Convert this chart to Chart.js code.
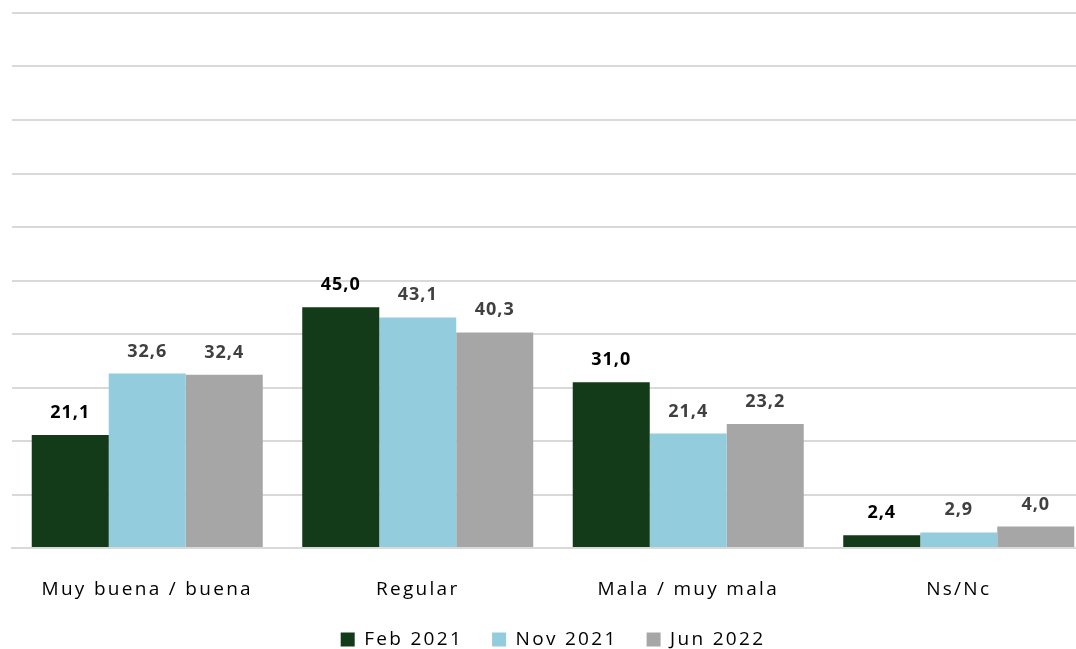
<!DOCTYPE html>
<html>
<head>
<meta charset="utf-8">
<script src="https://cdn.jsdelivr.net/npm/chart.js@4/dist/chart.umd.min.js"></script>
<style>
  html, body { margin: 0; padding: 0; background: #fff; overflow: hidden; }
  #wrap { width: 1094px; height: 649px; }
</style>
</head>
<body>
<!-- the original plot runs past the right edge, so the canvas is a bit wider than the window -->
<div id="wrap"><canvas id="chart" width="1094" height="649"></canvas></div>
<script>
// --- data ---
const categories = ['Muy buena / buena', 'Regular', 'Mala / muy mala', 'Ns/Nc'];
const seriesNames = ['Feb 2021', 'Nov 2021', 'Jun 2022'];
const feb2021 = [21.1, 45.0, 31.0, 2.4];
const nov2021 = [32.6, 43.1, 21.4, 2.9];
const jun2022 = [32.4, 40.3, 23.2, 4.0];

const barColors = ['#133A19', '#93CDDD', '#A6A6A6'];
const labelColors = ['#000000', '#404040', '#404040'];
const FONT = '"Open Sans", sans-serif';

// the original text is widely spaced (Calibri look), add some tracking
const tracking = {
  id: 'tracking',
  beforeLayout(chart) { chart.ctx.letterSpacing = '2.3px'; },
  beforeDraw(chart) { chart.ctx.letterSpacing = '2.3px'; },
};

// legend box is shorter than chart.js computes, keep the plot taller
const legendFit = {
  id: 'legendFit',
  beforeInit(chart) {
    const fit = chart.legend.fit;
    chart.legend.fit = function () {
      fit.call(this);
      this.height = 48;
    };
  },
};

// draw value labels above each bar, comma decimal
const valueLabels = {
  id: 'valueLabels',
  afterDatasetsDraw(chart) {
    const ctx = chart.ctx;
    ctx.save();
    ctx.letterSpacing = '1px';
    ctx.font = 'bold 18px ' + FONT;
    ctx.textAlign = 'center';
    ctx.textBaseline = 'alphabetic';
    chart.data.datasets.forEach((ds, i) => {
      const meta = chart.getDatasetMeta(i);
      ctx.fillStyle = labelColors[i];
      meta.data.forEach((bar, j) => {
        const txt = ds.data[j].toFixed(1).replace('.', ',');
        ctx.fillText(txt, bar.x, bar.y - 17);
      });
    });
    ctx.restore();
  }
};

new Chart(document.getElementById('chart'), {
  type: 'bar',
  data: {
    labels: categories,
    datasets: [
      { label: seriesNames[0], data: feb2021, backgroundColor: barColors[0] },
      { label: seriesNames[1], data: nov2021, backgroundColor: barColors[1] },
      { label: seriesNames[2], data: jun2022, backgroundColor: barColors[2] },
    ],
  },
  options: {
    responsive: false,
    animation: false,
    layout: { padding: { left: 12, right: 0, top: 13, bottom: 0 } },
    datasets: { bar: { categoryPercentage: 0.854, barPercentage: 1.0 } },
    plugins: {
      legend: {
        position: 'bottom',
        labels: {
          boxWidth: 14,
          boxHeight: 14,
          padding: 29,
          color: '#000',
          font: { family: FONT, size: 19, lineHeight: 1 },
        },
      },
      tooltip: { enabled: false },
    },
    scales: {
      x: {
        grid: { display: false, drawTicks: false },
        border: { color: '#D9D9D9', width: 2 },
        ticks: {
          color: '#000',
          padding: 32,
          font: { family: FONT, size: 19, lineHeight: 1 },
        },
        afterFit(scale) { scale.height = 53; },
      },
      y: {
        min: 0,
        max: 100,
        ticks: { display: false, stepSize: 10 },
        grid: { color: '#D9D9D9', lineWidth: 2, drawTicks: false },
        border: { display: false },
      },
    },
  },
  plugins: [tracking, legendFit, valueLabels],
});
</script>
</body>
</html>
